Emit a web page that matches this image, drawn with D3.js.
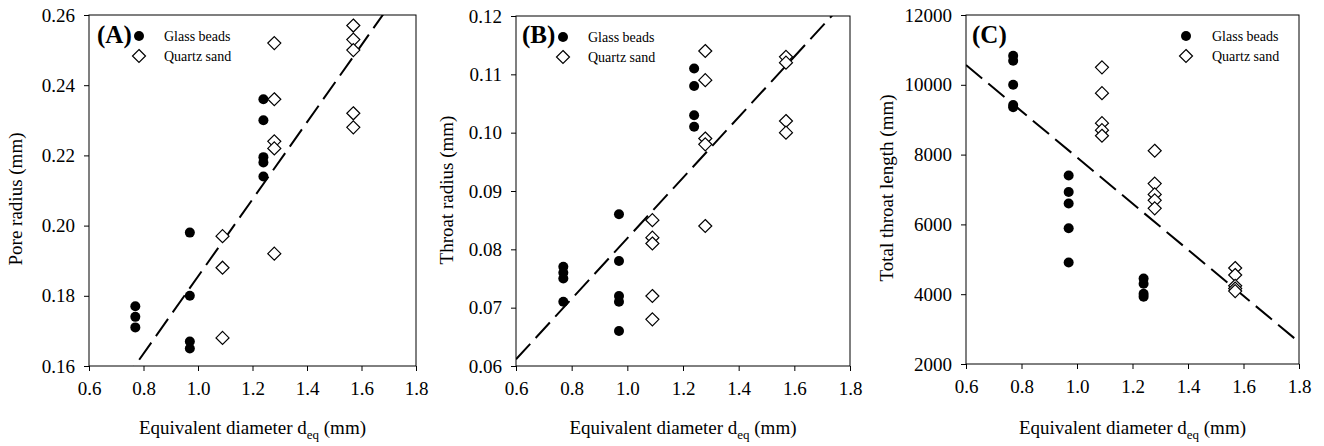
<!DOCTYPE html>
<html>
<head>
<meta charset="utf-8">
<script src="https://cdn.jsdelivr.net/npm/d3@7"></script>
<style>
  body { margin: 0; background: #fff; }
  svg { font-family: "Liberation Serif", "Times New Roman", serif; }
</style>
</head>
<body>
<div id="chart"></div>
<script>
// data
var xTicks = [0.6, 0.8, 1.0, 1.2, 1.4, 1.6, 1.8];

var poreTicks = [0.16, 0.18, 0.20, 0.22, 0.24, 0.26];
var throatTicks = [0.06, 0.07, 0.08, 0.09, 0.10, 0.11, 0.12];
var lengthTicks = [2000, 4000, 6000, 8000, 10000, 12000];

var glassPore = [[0.77, 0.177], [0.77, 0.174], [0.77, 0.171],
                 [0.97, 0.198], [0.97, 0.180], [0.97, 0.167], [0.97, 0.165],
                 [1.24, 0.236], [1.24, 0.230], [1.24, 0.2195], [1.24, 0.218], [1.24, 0.214]];
var quartzPore = [[1.09, 0.197], [1.09, 0.188], [1.09, 0.168],
                  [1.28, 0.252], [1.28, 0.236], [1.28, 0.224], [1.28, 0.222], [1.28, 0.192],
                  [1.57, 0.257], [1.57, 0.253], [1.57, 0.250], [1.57, 0.232], [1.57, 0.228]];

var glassThroat = [[0.77, 0.077], [0.77, 0.076], [0.77, 0.075], [0.77, 0.071],
                   [0.97, 0.086], [0.97, 0.078], [0.97, 0.072], [0.97, 0.071], [0.97, 0.066],
                   [1.24, 0.111], [1.24, 0.108], [1.24, 0.103], [1.24, 0.101]];
var quartzThroat = [[1.09, 0.085], [1.09, 0.082], [1.09, 0.081], [1.09, 0.072], [1.09, 0.068],
                    [1.28, 0.114], [1.28, 0.109], [1.28, 0.099], [1.28, 0.098], [1.28, 0.084],
                    [1.57, 0.113], [1.57, 0.112], [1.57, 0.102], [1.57, 0.100]];

var glassLength = [[0.77, 10830], [0.77, 10690], [0.77, 10000], [0.77, 9420], [0.77, 9360],
                   [0.97, 7400], [0.97, 6930], [0.97, 6600], [0.97, 5890], [0.97, 4910],
                   [1.24, 4450], [1.24, 4300], [1.24, 4010], [1.24, 3930]];
var quartzLength = [[1.09, 10500], [1.09, 9760], [1.09, 8900], [1.09, 8700], [1.09, 8540],
                    [1.28, 8110], [1.28, 7170], [1.28, 6860], [1.28, 6690], [1.28, 6460],
                    [1.57, 4750], [1.57, 4550], [1.57, 4240], [1.57, 4160], [1.57, 4090]];

// linear fits (slope, intercept)
var fitPore = [0.1099, 0.0756];
var fitThroat = [0.0519, 0.0300];
var fitLength = [-6616, 14537];

var seriesNames = ["Glass beads", "Quartz sand"];

var svg = d3.select("#chart").append("svg")
  .attr("width", 1324)
  .attr("height", 446);

var panels = [
  { tag: "(A)", title: "Pore radius (mm)", glass: glassPore, quartz: quartzPore, fit: fitPore,
    ticks: poreTicks, fmt: d3.format(".2f"),
    left: 89, right: 416, top: 15, bottom: 366, titleX: 22, titleY: 199,
    legX: 139, legTextX: 164, tagX: 97 },
  { tag: "(B)", title: "Throat radius (mm)", glass: glassThroat, quartz: quartzThroat, fit: fitThroat,
    ticks: throatTicks, fmt: d3.format(".2f"),
    left: 516, right: 850, top: 16, bottom: 366, titleX: 453, titleY: 190,
    legX: 563, legTextX: 588, tagX: 522 },
  { tag: "(C)", title: "Total throat length (mm)", glass: glassLength, quartz: quartzLength, fit: fitLength,
    ticks: lengthTicks, fmt: d3.format("d"),
    left: 966, right: 1299, top: 15, bottom: 364, titleX: 893, titleY: 188,
    legX: 1186, legTextX: 1212, tagX: 972 }
];

var diamond = function(h) { return "M0," + (-h) + "L" + h + ",0L0," + h + "L" + (-h) + ",0Z"; };

panels.forEach(function(p, i) {

  var x = d3.scaleLinear().domain([0.6, 1.8]).range([p.left, p.right]);
  var y = d3.scaleLinear().domain(d3.extent(p.ticks)).range([p.bottom, p.top]);

  var g = svg.append("g");

  // clip for the fit line
  g.append("clipPath").attr("id", "clip" + i)
    .append("rect")
    .attr("x", p.left).attr("y", p.top)
    .attr("width", p.right - p.left).attr("height", p.bottom - p.top);

  // frame
  g.append("rect")
    .attr("x", p.left).attr("y", p.top)
    .attr("width", p.right - p.left).attr("height", p.bottom - p.top)
    .attr("fill", "none").attr("stroke", "#000").attr("stroke-width", 1);

  // X axis
  var xa = g.append("g")
    .attr("transform", "translate(0," + p.bottom + ")")
    .call(d3.axisBottom(x).tickValues(xTicks).tickFormat(d3.format(".1f"))
      .tickSize(5).tickSizeOuter(0).tickPadding(11));
  // Y axis
  var ya = g.append("g")
    .attr("transform", "translate(" + p.left + ",0)")
    .call(d3.axisLeft(y).tickValues(p.ticks).tickFormat(p.fmt)
      .tickSize(5).tickSizeOuter(0).tickPadding(9));

  [xa, ya].forEach(function(a) {
    a.select(".domain").remove();
    a.selectAll("line").attr("stroke", "#000");
    a.selectAll("text")
      .attr("fill", "#000")
      .style("font-family", "'Liberation Serif', 'Times New Roman', serif")
      .style("font-size", "19px");
  });

  // x axis title with subscript
  var xt = g.append("text")
    .attr("x", (p.left + p.right) / 2)
    .attr("y", 434)
    .attr("text-anchor", "middle")
    .style("font-size", "19px");
  xt.append("tspan").text("Equivalent diameter d");
  xt.append("tspan").attr("dy", 5).style("font-size", "13px").text("eq");
  xt.append("tspan").attr("dy", -5).text(" (mm)");

  // y axis title
  g.append("text")
    .attr("transform", "translate(" + p.titleX + "," + p.titleY + ") rotate(-90)")
    .attr("text-anchor", "middle")
    .style("font-size", "19px")
    .text(p.title);

  // fit line
  g.append("path")
    .datum([0.6, 1.8])
    .attr("clip-path", "url(#clip" + i + ")")
    .attr("d", d3.line()
      .x(function(d) { return x(d); })
      .y(function(d) { return y(p.fit[0] * d + p.fit[1]); }))
    .attr("fill", "none")
    .attr("stroke", "#000")
    .attr("stroke-width", 2)
    .attr("stroke-dasharray", "21,8");

  // points
  g.selectAll(".glass")
    .data(p.glass)
    .enter().append("circle")
    .attr("cx", function(d) { return x(d[0]); })
    .attr("cy", function(d) { return y(d[1]); })
    .attr("r", 5)
    .attr("fill", "#000");

  g.selectAll(".quartz")
    .data(p.quartz)
    .enter().append("path")
    .attr("transform", function(d) { return "translate(" + x(d[0]) + "," + y(d[1]) + ")"; })
    .attr("d", diamond(6.5))
    .attr("fill", "#fff")
    .attr("stroke", "#000")
    .attr("stroke-width", 1.2);

  // panel tag
  g.append("text")
    .attr("x", p.tagX).attr("y", 43)
    .style("font-size", "25px")
    .style("font-weight", "bold")
    .text(p.tag);

  // legend
  var legY = [p.top + 21, p.top + 41];
  g.append("circle").attr("cx", p.legX).attr("cy", legY[0]).attr("r", 5).attr("fill", "#000");
  g.append("path")
    .attr("transform", "translate(" + p.legX + "," + legY[1] + ")")
    .attr("d", diamond(6.5))
    .attr("fill", "#fff").attr("stroke", "#000").attr("stroke-width", 1.2);
  seriesNames.forEach(function(s, k) {
    g.append("text")
      .attr("x", p.legTextX).attr("y", legY[k] + 5)
      .style("font-size", "14px")
      .text(s);
  });
});
</script>
</body>
</html>
